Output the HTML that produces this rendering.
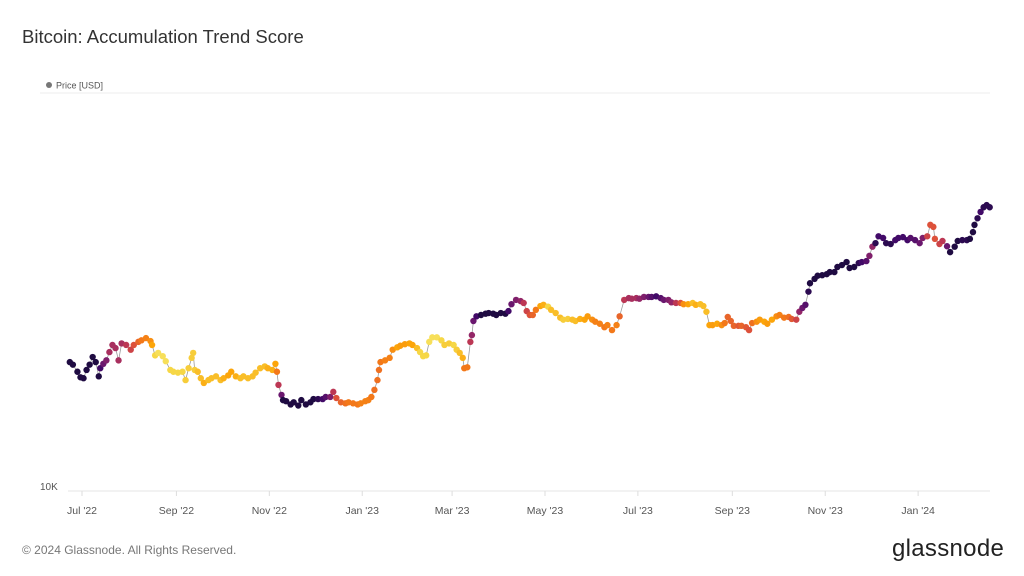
<!DOCTYPE html>
<html><head><meta charset="utf-8">
<style>
html,body{margin:0;padding:0;background:#fff;width:1024px;height:576px;overflow:hidden;font-family:"Liberation Sans",sans-serif;}
#title{position:absolute;left:22px;top:26px;font-size:18.5px;color:#333;}
#footer{position:absolute;left:22px;top:543px;font-size:12px;color:#777;}
#logo{position:absolute;left:892px;top:535px;font-size:24px;color:#222;letter-spacing:0.3px;}
svg{position:absolute;left:0;top:0;}
</style></head>
<body>
<div id="title">Bitcoin: Accumulation Trend Score</div>
<svg id="chart" width="1024" height="576"></svg>
<div id="footer">© 2024 Glassnode. All Rights Reserved.</div>
<div id="logo">glassnode</div>
<script>
// days since 2022-07-01
const days=[-8,-6,-3,-1,1,3,5,7,9,11,12,14,16,18,20,22,24,26,29,32,34,37,39,42,45,46,48,50,53,55,58,60,63,66,68,70,72,73,74,76,78,80,83,85,88,91,93,96,98,101,104,106,109,112,114,117,120,122,125,127,128,129,131,132,134,137,139,142,144,147,150,152,155,158,160,163,165,167,170,173,175,178,181,183,186,188,190,192,194,195,196,199,202,204,207,209,212,215,217,220,222,224,226,228,230,233,236,238,241,244,246,248,250,251,253,255,256,257,259,262,265,267,270,272,275,278,280,282,285,288,290,292,294,296,298,301,303,306,308,311,314,316,319,322,324,327,330,332,335,337,340,343,345,348,351,353,356,359,361,364,366,369,372,374,377,380,382,385,387,390,393,395,398,401,403,406,408,410,412,414,417,420,422,424,426,428,431,433,436,438,440,443,445,448,450,453,456,458,461,464,466,469,471,473,475,477,478,481,483,486,489,491,494,496,499,502,504,507,510,512,515,517,519,521,523,526,528,531,534,536,539,542,544,547,550,552,555,557,559,560,563,565,568,570,573,575,578,581,583,585,586,588,590,592,594,596];
// price in thousands USD
const prices=[20.7,20.4,19.6,19.0,18.9,19.8,20.4,21.3,20.7,19.1,20.0,20.5,20.9,21.9,22.8,22.4,20.9,23.0,22.8,22.2,22.8,23.2,23.4,23.7,23.3,22.8,21.5,21.8,21.4,20.8,19.8,19.6,19.5,19.6,18.7,20.0,21.2,21.8,19.8,19.6,18.9,18.4,18.7,18.9,19.1,18.7,18.9,19.2,19.6,19.1,18.9,19.1,18.9,19.1,19.5,20.0,20.2,20.0,19.8,20.5,19.6,18.2,17.2,16.7,16.6,16.3,16.5,16.2,16.7,16.3,16.5,16.8,16.8,16.8,17.0,17.0,17.5,16.9,16.5,16.4,16.5,16.4,16.3,16.4,16.6,16.7,17.0,17.7,18.7,19.8,20.7,20.9,21.2,22.2,22.5,22.7,22.9,23.0,22.8,22.4,21.9,21.4,21.5,23.2,23.8,23.8,23.4,22.8,23.0,22.8,22.2,21.8,21.2,20.0,20.1,23.2,24.1,26.1,26.8,27.0,27.2,27.3,27.2,27.0,27.3,27.2,27.6,28.7,29.4,29.2,28.9,27.6,27.0,27.0,27.8,28.4,28.6,28.3,27.8,27.3,26.6,26.3,26.4,26.3,26.1,26.4,26.3,26.8,26.3,26.0,25.7,25.2,25.5,24.8,25.5,26.8,29.4,29.7,29.6,29.7,29.6,29.9,29.9,29.9,30.0,29.7,29.4,29.4,29.0,28.9,28.9,28.7,28.7,28.9,28.6,28.7,28.4,27.5,25.5,25.5,25.7,25.5,25.8,26.7,26.1,25.4,25.4,25.4,25.2,24.8,25.8,26.0,26.3,26.0,25.7,26.3,26.8,27.0,26.6,26.7,26.4,26.3,27.5,28.1,28.6,30.8,32.3,33.1,33.7,33.8,34.0,34.4,34.4,35.4,35.8,36.4,35.2,35.4,36.2,36.4,36.6,37.7,39.7,40.5,42.1,41.7,40.5,40.3,41.2,41.7,41.9,41.2,41.7,41.2,40.5,41.7,42.1,44.9,44.4,41.5,40.3,41.0,39.8,38.5,39.7,41.0,41.2,41.2,41.5,43.1,44.9,46.6,48.3,49.6,50.2,49.6];
const scores=[.05,.05,.05,.05,.05,.05,.05,.05,.05,.05,.2,.3,.35,.45,.45,.45,.45,.45,.5,.55,.6,.65,.7,.72,.75,.8,.9,.92,.92,.92,.9,.9,.9,.9,.88,.88,.88,.88,.88,.85,.85,.82,.85,.85,.85,.85,.82,.8,.8,.82,.85,.85,.85,.85,.85,.85,.85,.82,.82,.8,.7,.5,.3,.05,.05,.05,.05,.05,.05,.05,.05,.1,.15,.2,.25,.35,.5,.6,.65,.68,.7,.7,.7,.72,.72,.72,.7,.68,.68,.68,.7,.72,.72,.75,.8,.78,.78,.8,.8,.85,.9,.9,.9,.92,.92,.92,.9,.88,.88,.9,.88,.85,.82,.7,.7,.5,.4,.3,.2,.1,.1,.05,.05,.1,.1,.1,.2,.3,.35,.4,.5,.55,.6,.65,.7,.8,.82,.9,.85,.85,.85,.88,.88,.85,.85,.82,.8,.78,.75,.72,.72,.7,.72,.7,.72,.65,.5,.45,.45,.45,.4,.35,.3,.25,.2,.25,.3,.35,.4,.5,.6,.75,.8,.85,.82,.85,.85,.85,.8,.78,.8,.75,.7,.65,.65,.65,.62,.65,.62,.6,.68,.75,.78,.8,.78,.8,.75,.72,.7,.68,.62,.55,.4,.3,.25,.15,.05,.05,.05,.05,.05,.1,.05,.05,.05,.05,.1,.1,.15,.2,.25,.35,.4,.15,.2,.2,.15,.15,.2,.2,.2,.2,.25,.25,.3,.35,.55,.6,.6,.6,.55,.5,.3,.05,.1,.1,.15,.15,.1,.1,.1,.15,.2,.15,.15,.15];
const tickLabels=["Jul '22","Sep '22","Nov '22","Jan '23","Mar '23","May '23","Jul '23","Sep '23","Nov '23","Jan '24"];
const tickDays=[0,62,123,184,243,304,365,427,488,549];

const NS="http://www.w3.org/2000/svg";
const svg=document.getElementById('chart');
function xS(d){return 82+d*1.523;}
function yS(k){return 491-408*Math.log10(k/10);}
const stops=[[0,0,4],[22,11,57],[66,10,104],[106,23,110],[147,38,103],[188,55,84],[221,81,58],[243,120,25],[252,165,10],[246,215,70],[252,255,164]];
function inferno(t){t=Math.max(0.12,Math.min(0.92,t));const p=t*10,i=Math.floor(p),f=p-i;const a=stops[i],b=stops[Math.min(10,i+1)];return 'rgb('+a.map((v,j)=>Math.round(v+(b[j]-v)*f)).join(',')+')';}
function mk(tag,attrs){const e=document.createElementNS(NS,tag);for(const k in attrs)e.setAttribute(k,attrs[k]);svg.appendChild(e);return e;}

let g=mk('line',{x1:40,x2:990,y1:93,y2:93,stroke:'#eee','stroke-width':1});


let ax=mk('line',{x1:68,x2:990,y1:491,y2:491,stroke:'#e6e6e6','stroke-width':1});


let ld=mk('circle',{cx:49,cy:85,r:3,fill:'#777'});


let lt=mk('text',{x:56,y:88.5,'font-size':9,fill:'#555','font-family':'Liberation Sans, sans-serif'});
lt.textContent='Price [USD]';


let yl=mk('text',{x:40,y:490,'font-size':10,fill:'#555','font-family':'Liberation Sans, sans-serif'});
yl.textContent='10K';


tickDays.forEach((d,i)=>{
  const x=xS(d);
  const tk=mk('line',{x1:x,x2:x,y1:491,y2:496,stroke:'#ddd','stroke-width':1});
  
  
  const t=mk('text',{x:x,y:514,'font-size':10.5,fill:'#555','text-anchor':'middle','font-family':'Liberation Sans, sans-serif'});
  t.textContent=tickLabels[i];
  
  
});
const n=Math.min(days.length,prices.length);
let dstr='';
for(let i=0;i<n;i++){dstr+=(i?'L':'M')+xS(days[i]).toFixed(1)+' '+yS(prices[i]).toFixed(1);}
const ln=mk('path',{d:dstr,fill:'none',stroke:'#9a9a9a','stroke-width':0.8});


for(let i=0;i<n;i++){
  const s=scores[i]!==undefined?scores[i]:0.5;
  const c=mk('circle',{cx:xS(days[i]),cy:yS(prices[i]),r:3.2,fill:inferno(s)});
  
  
}
</script>
</body></html>
